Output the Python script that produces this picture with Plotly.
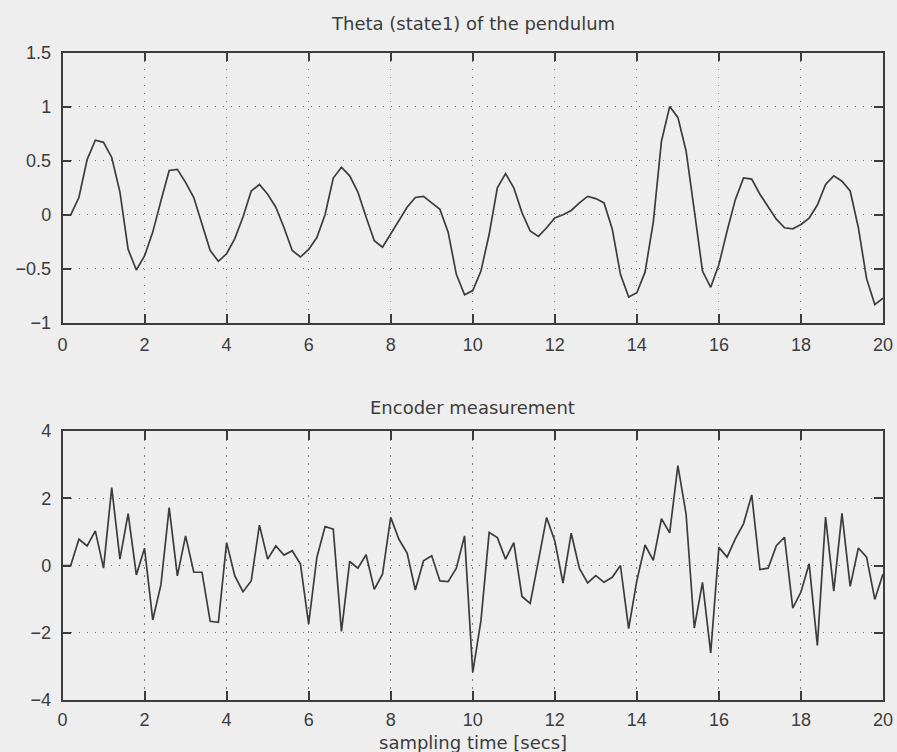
import plotly.graph_objects as go

# time axis: 0 .. 20 s in 0.2 s steps
t = [round(0.2 * k, 1) for k in range(101)]

theta = [
    0.00, 0.00, 0.16, 0.51, 0.69, 0.67, 0.53, 0.21, -0.32, -0.51,
    -0.38, -0.16, 0.13, 0.41, 0.42, 0.30, 0.16, -0.09, -0.33, -0.43,
    -0.36, -0.22, -0.02, 0.22, 0.28, 0.19, 0.07, -0.12, -0.33, -0.39,
    -0.32, -0.21, 0.00, 0.34, 0.44, 0.36, 0.21, -0.02, -0.24, -0.30,
    -0.18, -0.06, 0.07, 0.16, 0.17, 0.11, 0.05, -0.16, -0.55, -0.74,
    -0.70, -0.52, -0.18, 0.25, 0.38, 0.25, 0.02, -0.15, -0.20, -0.12,
    -0.03, 0.00, 0.04, 0.11, 0.17, 0.15, 0.11, -0.13, -0.55, -0.76,
    -0.72, -0.53, -0.07, 0.68, 1.00, 0.90, 0.59, 0.04, -0.52, -0.67,
    -0.46, -0.15, 0.14, 0.34, 0.33, 0.19, 0.07, -0.04, -0.12, -0.13,
    -0.09, -0.03, 0.09, 0.28, 0.36, 0.31, 0.22, -0.12, -0.59, -0.83,
    -0.77,
]

encoder = [
    0.00, 0.00, 0.78, 0.58, 1.03, -0.08, 2.32, 0.19, 1.54, -0.28,
    0.51, -1.62, -0.57, 1.72, -0.31, 0.88, -0.20, -0.20, -1.66, -1.69,
    0.68, -0.31, -0.78, -0.46, 1.20, 0.19, 0.58, 0.31, 0.44, 0.04,
    -1.74, 0.24, 1.16, 1.08, -1.96, 0.12, -0.08, 0.32, -0.71, -0.26,
    1.43, 0.78, 0.37, -0.73, 0.14, 0.29, -0.46, -0.48, -0.08, 0.88,
    -3.18, -1.64, 0.98, 0.83, 0.19, 0.68, -0.92, -1.13, 0.14, 1.43,
    0.73, -0.52, 0.96, -0.09, -0.52, -0.30, -0.50, -0.35, 0.00, -1.88,
    -0.45, 0.61, 0.15, 1.39, 0.97, 2.97, 1.53, -1.86, -0.50, -2.60,
    0.54, 0.25, 0.79, 1.24, 2.10, -0.12, -0.08, 0.59, 0.84, -1.27,
    -0.79, 0.05, -2.38, 1.44, -0.76, 1.55, -0.62, 0.52, 0.25, -1.01,
    -0.25,
]

x_ticks = [0, 2, 4, 6, 8, 10, 12, 14, 16, 18, 20]
top_yticks = [-1, -0.5, 0, 0.5, 1, 1.5]
bot_yticks = [-4, -2, 0, 2, 4]

title_top = "Theta (state1) of the pendulum"
title_bot = "Encoder measurement"
x_label = "sampling time [secs]"

W, H = 897, 752
BG = "#eeeeee"
INK = "#3c3c3c"
FONT = "Liberation Sans, Arial, Helvetica, sans-serif"
TFONT = "DejaVu Sans, Liberation Sans, sans-serif"

fig = go.Figure()
fig.add_trace(go.Scatter(x=t, y=theta, mode="lines", xaxis="x", yaxis="y",
                         line=dict(color=INK, width=1.7), showlegend=False))
fig.add_trace(go.Scatter(x=t, y=encoder, mode="lines", xaxis="x2", yaxis="y2",
                         line=dict(color=INK, width=1.7), showlegend=False))

def px_x(p):
    return p / W

def px_y(p):
    return 1 - p / H

axis_common = dict(
    showline=True, linecolor=INK, linewidth=1.5, mirror="ticks",
    ticks="inside", ticklen=9, tickwidth=1.5, tickcolor=INK,
    showgrid=True, gridcolor="#777777", griddash="1.5px,6.5px", gridwidth=1.2,
    zeroline=False, automargin=False,
    tickfont=dict(family=FONT, size=18, color=INK),
)

xdom = [px_x(62.5), px_x(883)]
xmid = 0.5 * (xdom[0] + xdom[1])
fig.update_layout(
    width=W, height=H,
    margin=dict(l=0, r=0, t=0, b=0),
    paper_bgcolor=BG, plot_bgcolor=BG,
    font=dict(family=FONT, size=18, color=INK),
    xaxis=dict(domain=xdom, range=[0, 20], tickvals=x_ticks, anchor="y",
               ticklabelstandoff=5, **axis_common),
    yaxis=dict(domain=[px_y(323), px_y(52.5)], range=[-1, 1.5], tickvals=top_yticks,
               ticktext=["\u22121", "\u22120.5", "0", "0.5", "1", "1.5"],
               anchor="x", ticklabelstandoff=6, **axis_common),
    xaxis2=dict(domain=xdom, range=[0, 20], tickvals=x_ticks, anchor="y2",
                ticklabelstandoff=3, **axis_common),
    yaxis2=dict(domain=[px_y(700), px_y(431)], range=[-4, 4], tickvals=bot_yticks,
                ticktext=["\u22124", "\u22122", "0", "2", "4"],
                anchor="x2", ticklabelstandoff=6, **axis_common),
    annotations=[
        dict(text=title_top, x=xmid, y=px_y(23), xref="paper", yref="paper",
             showarrow=False, xanchor="center", yanchor="middle",
             font=dict(family=TFONT, size=18, color=INK)),
        dict(text=title_bot, x=xmid, y=px_y(408), xref="paper", yref="paper",
             showarrow=False, xanchor="center", yanchor="middle",
             font=dict(family=TFONT, size=18, color=INK)),
        dict(text=x_label, x=xmid, y=px_y(742), xref="paper", yref="paper",
             showarrow=False, xanchor="center", yanchor="middle",
             font=dict(family=TFONT, size=18, color=INK)),
    ],
)

fig.write_html("out.html")
